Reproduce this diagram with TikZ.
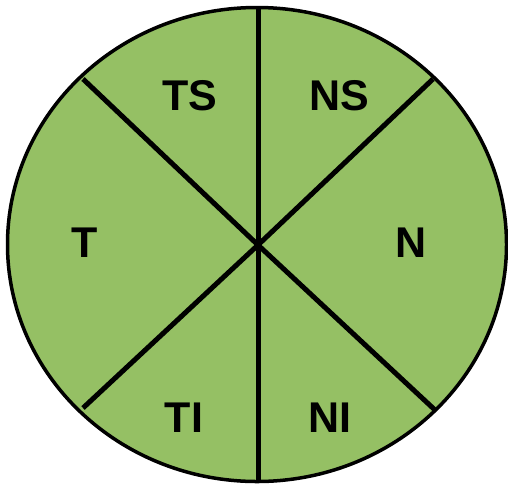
\documentclass[tikz,border=0pt]{standalone}
\usepackage{fontspec}
\setmainfont{Liberation Sans}
\definecolor{pie}{HTML}{95C064}
\begin{document}
\begin{tikzpicture}[x=1pt,y=-1pt,
  lab/.style={font=\fontsize{43}{43}\selectfont\bfseries, inner sep=0pt},
  divider/.style={line width=5pt, line cap=butt}]
\useasboundingbox (0,0) rectangle (508,483);
\fill[white] (0,0) rectangle (508,483);
\filldraw[fill=pie, draw=black, line width=3.5pt] (257,244.5) ellipse [x radius=249.5pt, y radius=237pt];
\coordinate (c) at (258,245);
\coordinate (top) at (258,8);
\coordinate (bot) at (258,482);
\coordinate (ul) at (83,79);
\coordinate (ur) at (433,79);
\coordinate (ll) at (83,408);
\coordinate (lr) at (435,410);
\draw[divider] (top) -- (bot);
\draw[divider] (ul) -- (c) -- (lr);
\draw[divider] (ur) -- (c) -- (ll);
\node[lab] (ts) at (190,96) {TS};
\node[lab] (ns) at (339,96) {NS};
\node[lab] (t) at (85,243) {T};
\node[lab] (n) at (411,243) {N};
\node[lab] (ti) at (184,418) {TI};
\node[lab] (ni) at (330,418) {NI};
\end{tikzpicture}
\end{document}
